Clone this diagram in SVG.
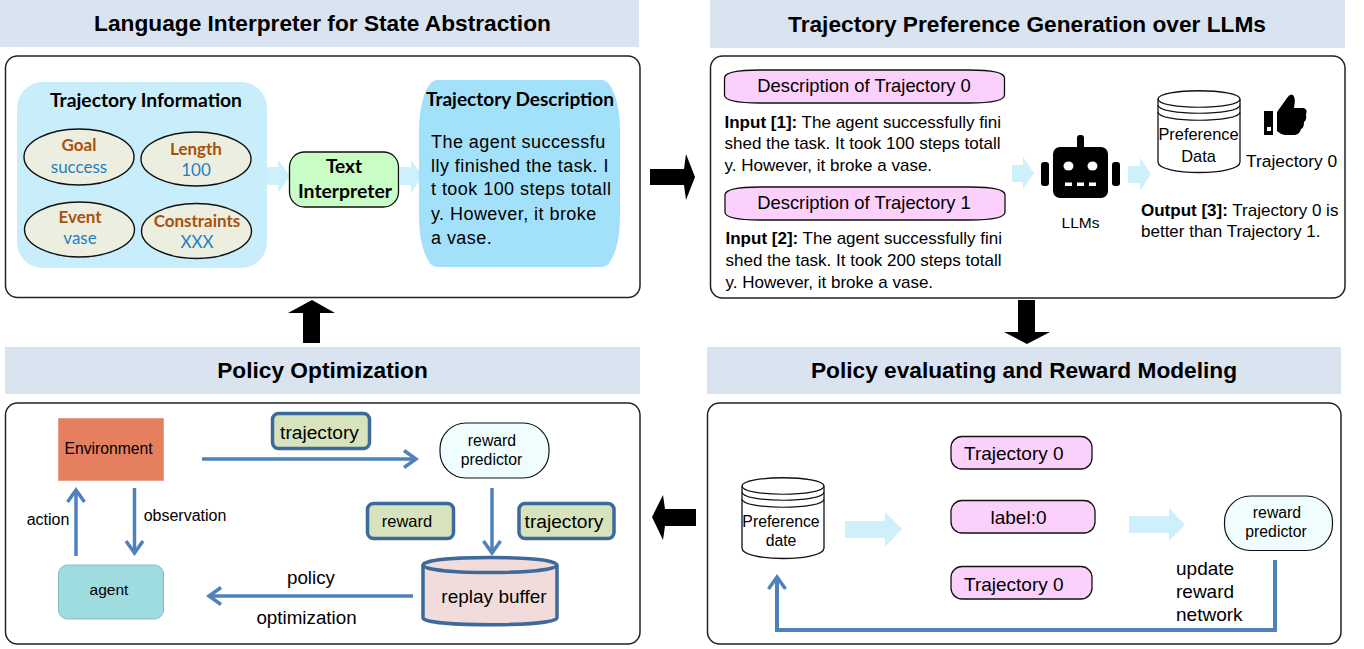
<svg xmlns="http://www.w3.org/2000/svg" width="1364" height="649" viewBox="0 0 1364 649">
<style>
text{font-family:"Liberation Sans",Arial,sans-serif;fill:#000}
.h{fill:#dae3f0}
.ht{font-size:22.700px;font-weight:700;text-anchor:middle}
.panel{fill:#fff;stroke:#222;stroke-width:1.5}
.lt{fill:#cdf0fb}
.blk{fill:#000}
.lato{font-family:Lato,"Liberation Sans",sans-serif}
.b{font-weight:700}
.el{fill:#ecefdf;stroke:#111;stroke-width:1.4}
.k{fill:#a9500f;font-weight:700;font-size:17px;text-anchor:middle;font-family:Lato,"Liberation Sans",sans-serif}
.v{fill:#1f7fc4;font-size:17px;text-anchor:middle;font-family:Lato,"Liberation Sans",sans-serif}
.pink{fill:#fbd0fb;stroke:#111;stroke-width:1.3}
.p{font-size:17px}
.m{text-anchor:middle}
.cyl{fill:#fff;stroke:#111;stroke-width:1.3}
.tag{fill:#d7e3bc;stroke:#3e6a9b;stroke-width:3.5}
.rp{fill:#f0fdfe;stroke:#111;stroke-width:1.2}
.conn{fill:none;stroke:#4f81bd;stroke-width:3.5}
</style>
<defs>
<marker id="ah" markerUnits="userSpaceOnUse" markerWidth="20" markerHeight="24" refX="15" refY="12" orient="auto"><path d="M3 3.500L15 12L3 20.500" fill="none" stroke="#4f81bd" stroke-width="3.5"/></marker>
</defs>

<g id="headers">
<rect class="h" x="0" y="0" width="639" height="47"/>
<rect class="h" x="710" y="0" width="635" height="48"/>
<rect class="h" x="5" y="347" width="635" height="47"/>
<rect class="h" x="707" y="347" width="634" height="47"/>
<text class="ht" x="322.500" y="31">Language Interpreter for State Abstraction</text>
<text class="ht" x="1027" y="32">Trajectory Preference Generation over LLMs</text>
<text class="ht" x="322.500" y="378">Policy Optimization</text>
<text class="ht" x="1024" y="378">Policy evaluating and Reward Modeling</text>
</g>

<g id="panels">
<rect class="panel" x="5.500" y="56" width="634.500" height="241.500" rx="12"/>
<rect class="panel" x="710.500" y="56" width="634.500" height="242" rx="12"/>
<rect class="panel" x="5.500" y="403" width="634.500" height="241" rx="12"/>
<rect class="panel" x="707.500" y="403" width="633.500" height="241" rx="12"/>
</g>

<g id="connectors">
<path class="lt" d="M267 167H278V160L290 176L278 193V185H267Z"/>
<path class="lt" d="M400 167H411V160L423 176L411 193V185H400Z"/>
<path class="lt" d="M1012 165H1023V157L1034 173L1023 189V182H1012Z"/>
<path class="lt" d="M1128 166H1140V158L1151 174L1140 191V183H1128Z"/>
<path class="lt" d="M845 521H885V512L902 529L885 547V538H845Z"/>
<path class="lt" d="M1129 516H1169V508L1185 525L1169 541V533H1129Z"/>
<path class="blk" d="M650 169H684L686 154L695 177L686 200L684 185H650Z"/>
<path class="blk" d="M303 343V313H288L312 300L335 313H320V343Z"/>
<path class="blk" d="M1018 300H1035V332H1050L1027 344L1004 332H1018Z"/>
<path class="blk" d="M696 509H665L663 495L652 517L663 540L665 526H696Z"/>
<path class="conn" d="M202 459H416" marker-end="url(#ah)"/>
<path class="conn" d="M492 488V553" marker-end="url(#ah)"/>
<path class="conn" d="M413 596H209" marker-end="url(#ah)"/>
<path class="conn" d="M76 556V490" marker-end="url(#ah)"/>
<path class="conn" d="M134.500 488V553" marker-end="url(#ah)"/>
<path class="conn" style="stroke-width:4" d="M1275 560V630H777V577" marker-end="url(#ah)"/>
</g>

<g id="trajectory-information">
<rect x="17" y="82" width="250" height="186" rx="26" fill="#c9eefb"/>
<text class="lato b" x="50" y="107" font-size="19" textLength="192" lengthAdjust="spacingAndGlyphs">Trajectory Information</text>
</g>
<g id="goal"><ellipse class="el" cx="79" cy="157" rx="55" ry="28"/><text class="k" x="79" y="151">Goal</text><text class="v" x="79" y="173">success</text></g>
<g id="length"><ellipse class="el" cx="196" cy="159" rx="55" ry="27"/><text class="k" x="196" y="155">Length</text><text class="v" x="196" y="176">100</text></g>
<g id="event"><ellipse class="el" cx="79.500" cy="229.500" rx="55" ry="27.500"/><text class="k" x="80" y="223">Event</text><text class="v" x="80" y="244">vase</text></g>
<g id="constraints"><ellipse class="el" cx="196.500" cy="231" rx="55" ry="27.500"/><text class="k" x="197" y="227">Constraints</text><text class="v" x="197" y="248">XXX</text></g>

<g id="text-interpreter">
<rect x="289.500" y="152" width="109" height="55" rx="15" fill="#c9fdc6" stroke="#111" stroke-width="1.3"/>
<text class="lato b m" x="344" y="173" font-size="19">Text</text>
<text class="lato b m" x="345" y="198" font-size="19" textLength="94" lengthAdjust="spacingAndGlyphs">Interpreter</text>
</g>

<g id="trajectory-description">
<path d="M437 80H602A18 50 0 0 1 620 130V217A18 50 0 0 1 602 267H437A18 50 0 0 1 419 217V130A18 50 0 0 1 437 80Z" fill="#a3e1fb"/>
<text class="lato b" x="426" y="106" font-size="19" textLength="188" lengthAdjust="spacingAndGlyphs">Trajectory Description</text>
<g font-size="18" letter-spacing=".45">
<text x="431" y="148">The agent successfu</text>
<text x="431" y="172">lly finished the task. I</text>
<text x="431" y="195">t took 100 steps totall</text>
<text x="431" y="220">y. However, it broke</text>
<text x="431" y="244">a vase.</text>
</g>
</g>

<g id="description-0">
<path class="pink" d="M724.500 78Q724.500 70 760 70H969Q1004.500 70 1004.500 78V95Q1004.500 103 969 103H760Q724.500 103 724.500 95Z"/>
<text x="864" y="92" font-size="18.400" text-anchor="middle">Description of Trajectory 0</text>
</g>
<text class="p" x="724.500" y="128"><tspan font-weight="700">Input [1]:</tspan> The agent successfully fini</text>
<text class="p" x="724.500" y="149">shed the task. It took 100 steps totall</text>
<text class="p" x="724.500" y="171">y. However, it broke a vase.</text>
<g id="description-1">
<path class="pink" d="M725 195Q725 187 760 187H970Q1005 187 1005 195V212Q1005 220 970 220H760Q725 220 725 212Z"/>
<text x="864" y="209" font-size="18.400" text-anchor="middle">Description of Trajectory 1</text>
</g>
<text class="p" x="725.500" y="244"><tspan font-weight="700">Input [2]:</tspan> The agent successfully fini</text>
<text class="p" x="725.500" y="266">shed the task. It took 200 steps totall</text>
<text class="p" x="725.500" y="288">y. However, it broke a vase.</text>

<g id="llms">
<rect x="1053" y="147" width="55" height="51" rx="7"/>
<rect x="1077" y="135" width="7" height="14" rx="3"/>
<rect x="1041" y="162" width="8" height="24" rx="3"/>
<rect x="1112" y="162" width="8" height="24" rx="3"/>
<ellipse cx="1068.500" cy="166" rx="5" ry="4.500" fill="#fff"/>
<ellipse cx="1092.500" cy="166" rx="5" ry="4.500" fill="#fff"/>
<rect x="1065" y="182.500" width="7" height="3.500" fill="#fff"/>
<rect x="1077" y="182.500" width="7" height="3.500" fill="#fff"/>
<rect x="1089" y="182.500" width="7" height="3.500" fill="#fff"/>
<text x="1080.500" y="228" font-size="15.500" text-anchor="middle">LLMs</text>
</g>

<g id="preference-data">
<path class="cyl" d="M1158 99C1158 88 1240 88 1240 99V162C1240 176 1158 176 1158 162Z"/>
<path d="M1158 99C1158 110 1240 110 1240 99M1158 105C1158 116 1240 116 1240 105M1158 112C1158 123 1240 123 1240 112" fill="none" stroke="#111" stroke-width="1.200"/>
<text class="m" x="1198.500" y="140" font-size="16.400">Preference</text>
<text class="m" x="1198.500" y="162" font-size="16.400">Data</text>
</g>

<g id="thumb">
<path d="M1264 111H1273V135H1264Z"/>
<rect x="1267" y="127" width="4" height="4" fill="#fff"/>
<path d="M1277 112L1287 98Q1290 93 1293 95Q1296 98 1294 108H1304Q1308 110 1306 114Q1307 120 1304 122Q1304 128 1301 129Q1300 134 1295 135H1285Q1280 134 1277 131Z"/>
</g>
<text x="1246" y="167" font-size="17.400">Trajectory 0</text>
<text class="p" x="1141" y="216"><tspan font-weight="700">Output [3]:</tspan> Trajectory 0 is</text>
<text class="p" x="1141" y="237">better than Trajectory 1.</text>

<g id="environment">
<rect x="58.500" y="418.500" width="105" height="62" fill="#e57f60" stroke="#e8a08a"/>
<text class="m" x="108.500" y="454" font-size="15.700">Environment</text>
</g>
<g id="agent">
<rect x="58.500" y="565" width="105" height="54" rx="9" fill="#9fdcdf" stroke="#87bdbf"/>
<text class="m" x="109" y="595" font-size="15.500">agent</text>
</g>
<g id="reward-predictor-1">
<rect class="rp" x="440" y="423" width="109" height="55" rx="26"/>
<text class="m" x="492" y="446" font-size="15.800">reward</text>
<text class="m" x="491.500" y="465" font-size="15.800">predictor</text>
</g>
<g id="trajectory-tag-1">
<rect class="tag" x="272.500" y="413.500" width="97" height="35" rx="6"/>
<text class="m" x="319.500" y="439" font-size="19.200">trajectory</text>
</g>
<g id="reward-tag">
<rect class="tag" x="367.500" y="503.500" width="86" height="35" rx="6"/>
<text class="m" x="407" y="527" font-size="16.500">reward</text>
</g>
<g id="trajectory-tag-2">
<rect class="tag" x="519" y="503.500" width="95" height="35" rx="6"/>
<text class="m" x="564" y="527.500" font-size="19.200">trajectory</text>
</g>
<g id="replay-buffer">
<path d="M423 565V618C423 627 557 627 557 618V565C557 555 423 555 423 565Z" fill="#f2dcdb" stroke="#3e6a9b" stroke-width="3.500"/>
<path d="M423 565C423 575 557 575 557 565" fill="none" stroke="#3e6a9b" stroke-width="3.500"/>
<text class="m" x="494" y="603" font-size="19">replay buffer</text>
</g>
<g font-size="16">
<text class="m" x="48" y="525">action</text>
<text class="m" x="185" y="521">observation</text>
</g>
<g font-size="18.800">
<text class="m" x="311" y="584">policy</text>
<text class="m" x="306.500" y="624">optimization</text>
</g>

<g id="preference-date">
<path class="cyl" d="M742 486C742 475 824 475 824 486V548C824 562 742 562 742 548Z"/>
<path d="M742 486C742 497 824 497 824 486M742 492C742 503 824 503 824 492M742 499C742 510 824 510 824 499" fill="none" stroke="#111" stroke-width="1.200"/>
<text class="m" x="781" y="527" font-size="15.800">Preference</text>
<text class="m" x="781" y="546" font-size="15.800">date</text>
</g>
<g id="trajectory-a">
<rect class="pink" x="951" y="436.500" width="141" height="32.500" rx="11"/>
<text x="964" y="460" font-size="19">Trajectory 0</text>
</g>
<g id="label">
<rect class="pink" x="951" y="500.500" width="144" height="32.500" rx="11"/>
<text class="m" x="1018.500" y="524" font-size="19">label:0</text>
</g>
<g id="trajectory-b">
<rect class="pink" x="951" y="566.500" width="141" height="32.500" rx="11"/>
<text x="964" y="591" font-size="19">Trajectory 0</text>
</g>
<g id="reward-predictor-2">
<rect class="rp" x="1224.500" y="496" width="108" height="54.500" rx="26"/>
<text class="m" x="1277" y="518" font-size="15.800">reward</text>
<text class="m" x="1276" y="537" font-size="15.800">predictor</text>
</g>
<g font-size="19">
<text x="1176" y="575">update</text>
<text x="1176" y="598">reward</text>
<text x="1176" y="621">network</text>
</g>
</svg>
